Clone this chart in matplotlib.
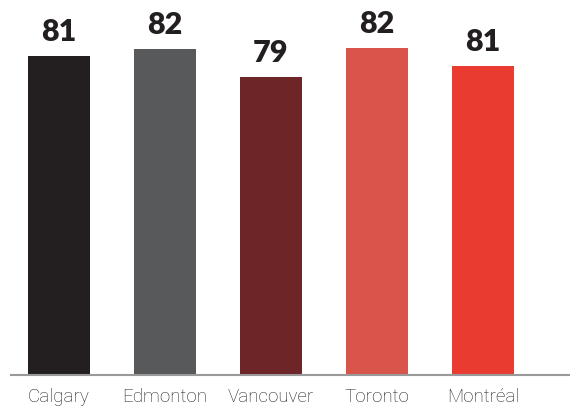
import matplotlib
matplotlib.use("Agg")
import matplotlib.pyplot as plt
from matplotlib.lines import Line2D

cities = ["Calgary", "Edmonton", "Vancouver", "Toronto", "Montréal"]
labels = ["81", "82", "79", "82", "81"]
heights = [80.0, 81.7, 74.7, 82.0, 77.5]
colors = ["#231f20", "#58595b", "#6d2527", "#d9554b", "#ea3b31"]

fig = plt.figure(figsize=(5.7, 4.08), dpi=100)
ax = fig.add_axes([0, 33/408, 1, 375/408])
x = list(range(len(cities)))
ax.bar(x, heights, width=0.585, color=colors)
ax.set_xlim(-59/106, (570-59)/106)
ax.set_ylim(0, 375/327*82)
for xi, h, lab in zip(x, heights, labels):
    ax.annotate(lab, (xi, h), xytext=(0, 7.5), textcoords="offset points",
                ha="center", va="bottom", fontsize=22, fontweight="heavy",
                family="Lato", color="#231f20")
for s in ax.spines.values():
    s.set_visible(False)
ax.set_yticks([])
ax.set_xticks(x)
ax.set_xticklabels(cities, fontsize=13.5, family="Roboto", fontweight="light", color="#231f20")
ax.tick_params(axis="x", length=0, pad=9)
fig.add_artist(Line2D([11/570, 1.0], [33/408, 33/408], color="#9a9a9a", lw=1.5))
fig.savefig("out.png", dpi=100)
